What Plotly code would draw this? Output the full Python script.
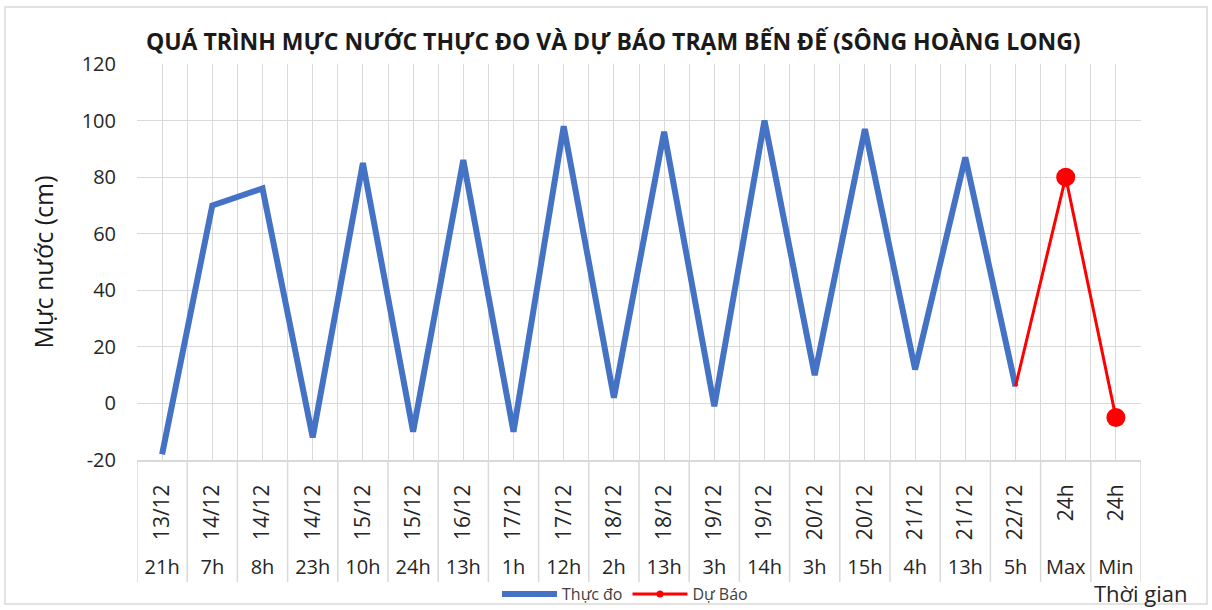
import plotly.graph_objects as go
import numpy as np

# ---- data ----
dates = ["13/12", "14/12", "14/12", "14/12", "15/12", "15/12", "16/12", "17/12", "17/12",
         "18/12", "18/12", "19/12", "19/12", "20/12", "20/12", "21/12", "21/12", "22/12",
         "24h", "24h"]
hours = ["21h", "7h", "8h", "23h", "10h", "24h", "13h", "1h", "12h",
         "2h", "13h", "3h", "14h", "3h", "15h", "4h", "13h", "5h",
         "Max", "Min"]
observed = [-18, 70, 76, -12, 85, -10, 86, -10, 98, 2, 96, -1, 100, 10, 97, 12, 87, 6]
forecast = [80, -5]
y_ticks = [-20, 0, 20, 40, 60, 80, 100, 120]

title_text = "QUÁ TRÌNH MỰC NƯỚC THỰC ĐO VÀ DỰ BÁO TRẠM BẾN ĐẾ (SÔNG HOÀNG LONG)"

# ---- geometry ----
W, H = 1212, 610
L, R, T, B = 137, 71, 64, 28
plot_w = W - L - R
plot_h = H - T - B
y_bottom_px = 460
ydom0 = (H - B - y_bottom_px) / plot_h

FONT = "Open Sans"
GRID = "#d9d9d9"

n = len(dates)
idx = np.arange(n)
n_obs = len(observed)
x_obs = idx[:n_obs]
x_fc = idx[n_obs - 1:]
y_fc = [observed[-1]] + forecast

fig = go.Figure()

fig.add_trace(go.Scatter(
    x=x_obs, y=observed, mode="lines", name="Thực đo",
    line=dict(color="#4472C4", width=6), hoverinfo="x+y"))

fig.add_trace(go.Scatter(
    x=x_fc, y=y_fc, mode="lines+markers", name="Dự Báo", showlegend=False,
    line=dict(color="#FF0000", width=3),
    marker=dict(color="#FF0000", opacity=1, line=dict(width=0),
                size=[0] + [19] * len(forecast))))

# legend entry for forecast (small dot like the reference)
fig.add_trace(go.Scatter(
    x=[None], y=[None], mode="lines+markers", name="Dự Báo",
    line=dict(color="#FF0000", width=3),
    marker=dict(color="#FF0000", size=7, line=dict(width=0))))

# invisible trace to carry the hour axis
fig.add_trace(go.Scatter(
    x=idx, y=[None] * n, xaxis="x2", mode="markers", showlegend=False, hoverinfo="skip"))

# separators in the category label area
shapes = []
for b in np.arange(n + 1) - 0.5:
    shapes.append(dict(type="line", xref="x", yref="paper", x0=b, x1=b, y0=0, y1=ydom0,
                       line=dict(color=GRID, width=1.5), layer="below"))


def px_x(p):
    return (p - L) / plot_w


def px_y(p):
    return (H - B - p) / plot_h


# outer chart border
shapes.append(dict(type="rect", xref="paper", yref="paper",
                   x0=px_x(5), x1=px_x(1207), y0=px_y(604), y1=px_y(7),
                   line=dict(color=GRID, width=1.5), layer="below"))

fig.update_layout(
    width=W, height=H,
    margin=dict(l=L, r=R, t=T, b=B, autoexpand=False),
    paper_bgcolor="white", plot_bgcolor="white",
    font=dict(family=FONT, color="#404040"),
    title=dict(text="<b>" + title_text + "</b>", x=0.506, xanchor="center",
               y=1 - 42 / H, yanchor="middle",
               font=dict(family=FONT, size=23, color="#1a1a1a")),
    xaxis=dict(
        range=[-0.5, n - 0.5], tickmode="array", tickvals=idx, ticktext=dates,
        tickangle=-90, tickfont=dict(size=21, color="#262626"),
        ticks="outside", ticklen=14, tickcolor="rgba(0,0,0,0)",
        showgrid=True, gridcolor=GRID, gridwidth=1,
        minor=dict(tickmode="linear", tick0=-0.5, dtick=1, showgrid=True,
                   gridcolor=GRID, gridwidth=1),
        showline=True, linecolor=GRID, linewidth=2,
        zeroline=False, fixedrange=True),
    xaxis2=dict(
        overlaying="x", matches="x", anchor="free", position=0, side="top",
        tickmode="array", tickvals=idx, ticktext=hours,
        tickfont=dict(size=20, color="#262626"), ticks="", ticklabelstandoff=4,
        showgrid=False, showline=False, zeroline=False),
    yaxis=dict(
        domain=[ydom0, 1], range=[-20, 120], tickmode="array", tickvals=y_ticks,
        ticktext=[str(v) for v in y_ticks],
        tickfont=dict(size=20, color="#262626"), ticklabelstandoff=20,
        showgrid=True, gridcolor=GRID, gridwidth=1, zeroline=False,
        showline=False,
        title=dict(text="Mực nước (cm)", standoff=20,
                   font=dict(size=25, color="#1a1a1a"))),
    legend=dict(orientation="h", x=px_x(497), xanchor="left", y=px_y(594),
                yanchor="middle", itemwidth=55, bgcolor="rgba(0,0,0,0)",
                font=dict(size=16, color="#404040"), tracegroupgap=0),
    shapes=shapes,
    annotations=[dict(text="Thời gian", xref="paper", yref="paper",
                      x=px_x(1190), xanchor="right", y=px_y(593), yanchor="middle",
                      showarrow=False, font=dict(size=22, color="#262626"))],
)

fig.write_html("out.html",
               config={"displayModeBar": False},
               post_script="document.body.style.margin='0px';"
                           "document.body.style.overflow='hidden';")
